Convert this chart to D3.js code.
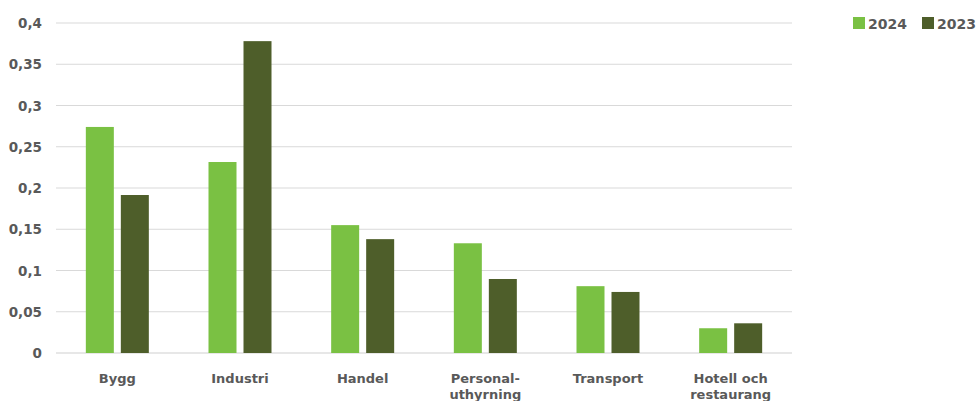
<!DOCTYPE html>
<html><head><meta charset="utf-8">
<script src="https://cdn.jsdelivr.net/npm/d3@7"></script>
<style>body{margin:0;background:#fff;} text{font-family:"DejaVu Sans",sans-serif;font-weight:bold;fill:#595959;}</style>
</head><body>
<svg id="c" width="978" height="401"></svg>
<script>
const categories = [["Bygg"],["Industri"],["Handel"],["Personal-","uthyrning"],["Transport"],["Hotell och","restaurang"]];
const series = ["2024","2023"];
const values2024 = [0.274, 0.2315, 0.155, 0.133, 0.081, 0.030];
const values2023 = [0.1915, 0.378, 0.138, 0.0897, 0.074, 0.036];
const yTicks = [0,0.05,0.1,0.15,0.2,0.25,0.3,0.35,0.4];
const colors = ["#7AC143","#4E5E2A"];

(function(){
const svg = d3.select("#c");
const L=56, R=792, T=23, B=353;
const y = d3.scaleLinear().domain([0,0.4]).range([B,T]);
const x = d3.scaleBand().domain(d3.range(categories.length)).range([L,R]);
const barW = 28, gap = 7;
const fmt = d => String(d).replace(".",",");

svg.append("g").selectAll("line").data(yTicks).join("line")
  .attr("x1",L).attr("x2",R).attr("y1",d=>y(d)).attr("y2",d=>y(d))
  .attr("stroke",d=>d===0?"#d0d0d0":"#d9d9d9").attr("stroke-width",1.2);
svg.append("g").selectAll("text").data(yTicks).join("text")
  .attr("x",42).attr("y",d=>y(d)+5).attr("text-anchor","end").attr("font-size",13.5).text(fmt);

const data = [values2024, values2023];
data.forEach((vals,si)=>{
  svg.append("g").selectAll("rect").data(vals).join("rect")
    .attr("x",(d,i)=>x(i)+x.bandwidth()/2 - (barW+gap/2) + si*(barW+gap))
    .attr("width",barW)
    .attr("y",d=>y(d)).attr("height",d=>B-y(d))
    .attr("fill",colors[si]);
});

const cg = svg.append("g");
categories.forEach((lines,i)=>{
  const t = cg.append("text").attr("text-anchor","middle").attr("font-size",13)
    .attr("x",x(i)+x.bandwidth()/2).attr("y",383);
  lines.forEach((l,j)=>t.append("tspan").attr("x",x(i)+x.bandwidth()/2).attr("dy",j?16:0).text(l));
});

const lg = svg.append("g");
const lx = [853, 922];
series.forEach((s,i)=>{
  lg.append("rect").attr("x",lx[i]).attr("y",17).attr("width",12).attr("height",12).attr("fill",colors[i]);
  lg.append("text").attr("x",lx[i]+15).attr("y",29).attr("font-size",14).text(s);
});
})();
</script>
</body></html>
